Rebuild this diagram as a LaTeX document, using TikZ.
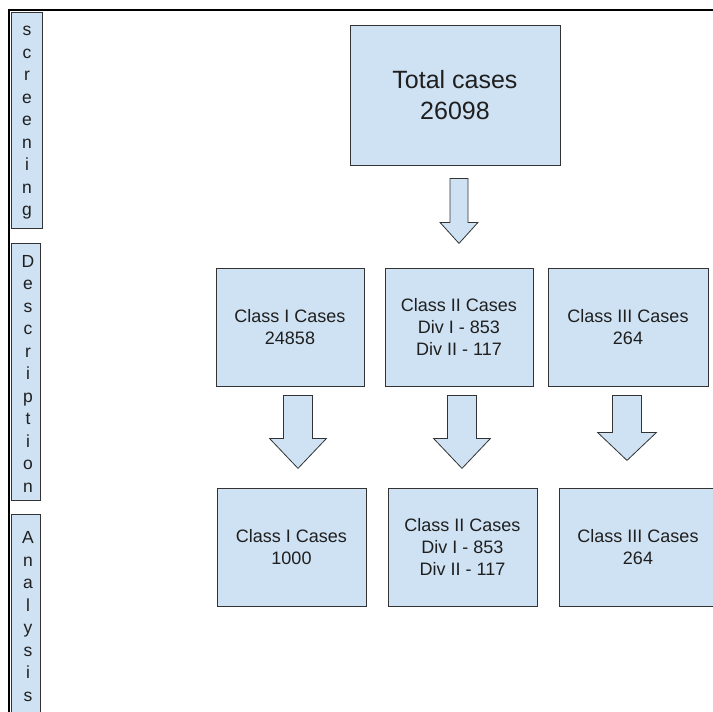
\documentclass[tikz,border=0pt]{standalone}
\usepackage{fontspec}
\setmainfont{Liberation Sans}
\usetikzlibrary{calc, positioning}
\definecolor{boxblue}{HTML}{CFE2F3}
\definecolor{boxline}{HTML}{333333}

\tikzset{
  casebox/.style={draw=boxline, fill=boxblue, line width=0.8pt, align=center,
    font=\fontsize{18}{22}\selectfont, text=black!88, inner sep=0pt},
  sidebox/.style={draw=boxline, fill=boxblue, line width=0.8pt, inner sep=0pt},
  sidetext/.style={align=center, font=\fontsize{17.5}{22.5}\selectfont, text=black!88, inner sep=0pt},
  blockarrow/.style={draw=boxline, fill=boxblue, line width=0.8pt, line join=miter},
}
% top point, half shaft, half head, shaft length, total length
\newcommand{\fatarrow}[5]{%
  \draw[blockarrow] ($(#1)+(-#2,0)$) -- ($(#1)+(#2,0)$) -- ($(#1)+(#2,#4)$)
    -- ($(#1)+(#3,#4)$) -- ($(#1)+(0,#5)$) -- ($(#1)+(-#3,#4)$)
    -- ($(#1)+(-#2,#4)$) -- cycle;}

\begin{document}
\begin{tikzpicture}[x=1pt, y=-1pt]
    \useasboundingbox (0,0) rectangle (713,712);
    \clip (0,0) rectangle (713,712);

    % frame
    \draw[line width=1.5pt] (9,712) -- (9,10) -- (713,10);

    % stages on the left
    \node[sidebox, minimum width=31pt, minimum height=216pt] (scrbox) at (26.5,120) {};
    \node[sidetext] (scrtext) at (27,123) {s\\c\\r\\e\\e\\n\\i\\n\\g};
    \node[sidebox, minimum width=29pt, minimum height=257pt] (descbox) at (25.5,371.5) {};
    \node[sidetext] (desctext) at (28,373.5) {D\\e\\s\\c\\r\\i\\p\\t\\i\\o\\n};
    \node[sidebox, minimum width=29pt, minimum height=205pt, anchor=north] (anbox) at (25.5,514) {};
    \node[sidetext] (antext) at (28,616.5) {A\\n\\a\\l\\y\\s\\i\\s};

    % total
    \node[casebox, minimum width=210pt, minimum height=140pt,
          font=\fontsize{25}{31}\selectfont] (total) at (455,95) {Total cases\\26098};

    % description row
    \node[casebox, minimum width=148pt, minimum height=118pt] (descI) at (290,327) {Class I Cases\\24858};
    \node[casebox, minimum width=148pt, minimum height=118pt] (descII) at (459,327) {Class II Cases\\Div I - 853\\Div II - 117};
    \node[casebox, minimum width=160pt, minimum height=118pt] (descIII) at (628,327) {Class III Cases\\264};

    % analysis row
    \node[casebox, minimum width=149pt, minimum height=118pt] (anI) at (291.5,547) {Class I Cases\\1000};
    \node[casebox, minimum width=149pt, minimum height=118pt] (anII) at (462.5,547) {Class II Cases\\Div I - 853\\Div II - 117};
    \node[casebox, minimum width=158pt, minimum height=118pt] (anIII) at (638,547) {Class III Cases\\264};

    % block arrows
    \coordinate (a0) at ($(total.south)+(4,13)$);
    \coordinate (a1) at ($(descI.south)+(8,9)$);
    \coordinate (a2) at ($(descII.south)+(3,9)$);
    \coordinate (a3) at ($(descIII.south)+(-1,9)$);
    \fatarrow{a0}{9}{19}{44}{65}
    \fatarrow{a1}{14.5}{28.5}{43}{73}
    \fatarrow{a2}{14.5}{28.5}{43}{73}
    \fatarrow{a3}{14.5}{29.5}{37}{65}
\end{tikzpicture}
\end{document}
